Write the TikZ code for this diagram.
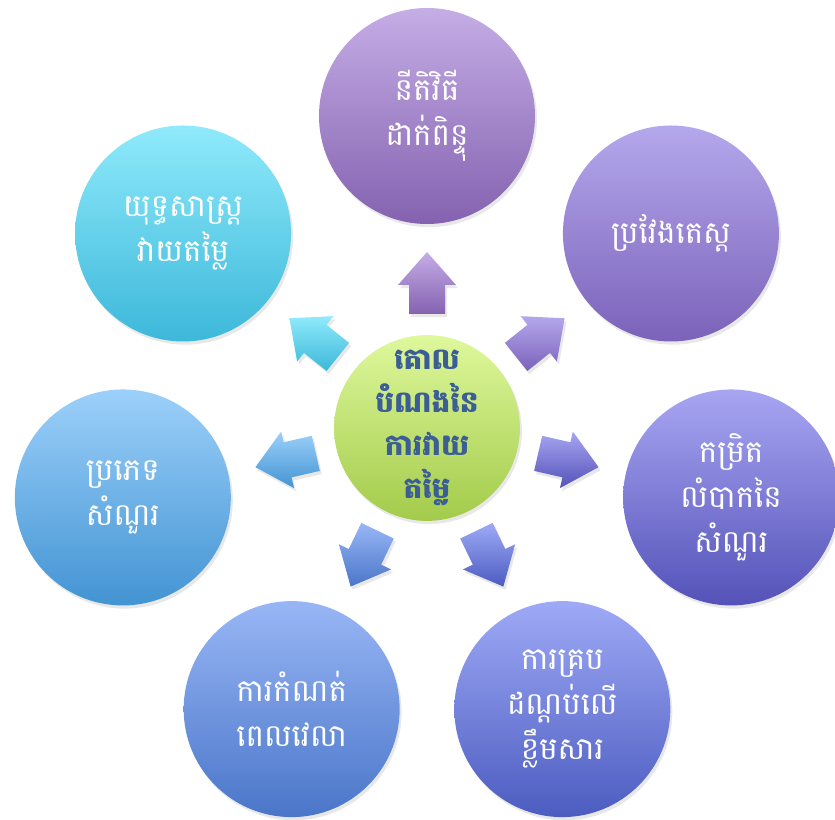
\documentclass[tikz,border=0pt]{standalone}
\usepackage{fontspec}
\newfontfamily\khmerfont[Script=Khmer]{Battambang}
\usetikzlibrary{positioning,calc,shadows}
\definecolor{hubtop}{HTML}{DEF89C}
\definecolor{hubbot}{HTML}{A3CB4A}
\definecolor{hubtext}{HTML}{3C5E96}
\definecolor{lilactop}{HTML}{C5ADE6}
\definecolor{lilacbot}{HTML}{8462B0}
\definecolor{violettop}{HTML}{B4A8EC}
\definecolor{violetbot}{HTML}{7B62BA}
\definecolor{indigotop}{HTML}{A8A6F2}
\definecolor{indigobot}{HTML}{5452B8}
\definecolor{royaltop}{HTML}{9EAAF6}
\definecolor{royalbot}{HTML}{4C5CC0}
\definecolor{cornflowertop}{HTML}{98B6F5}
\definecolor{cornflowerbot}{HTML}{4A76C9}
\definecolor{skytop}{HTML}{9CD0FA}
\definecolor{skybot}{HTML}{4394D3}
\definecolor{aquatop}{HTML}{8FEAFB}
\definecolor{aquabot}{HTML}{3DB8DA}
\tikzset{
  softshadow/.style={drop shadow={opacity=0.18, shadow xshift=0.5mm, shadow yshift=-0.8mm}},
  bubble/.style={circle, softshadow, minimum size=5.4cm, inner sep=0pt, align=center, text=white, font=\khmerfont\fontsize{22}{32}\selectfont},
  hub/.style={circle, softshadow, minimum size=4.35cm, inner sep=0pt, align=center, text=hubtext, top color=hubtop, bottom color=hubbot, font=\khmerfont\bfseries\fontsize{21}{30.5}\selectfont},
  blockarrow/.style={softshadow},
  lilac/.style={top color=lilactop, bottom color=lilacbot},
  violet/.style={top color=violettop, bottom color=violetbot},
  indigo/.style={top color=indigotop, bottom color=indigobot},
  royal/.style={top color=royaltop, bottom color=royalbot},
  cornflower/.style={top color=cornflowertop, bottom color=cornflowerbot},
  sky/.style={top color=skytop, bottom color=skybot},
  aqua/.style={top color=aquatop, bottom color=aquabot}
}
\begin{document}
\begin{tikzpicture}
  \useasboundingbox (-10.675,-9.8) rectangle (10.2,10.7);
  % centre
  \node[hub] (goal) at (0,0) {គោល\\បំណងនៃ\\ការវាយ\\តម្លៃ};
  % outer circles
  \node[bubble, lilac] (scoring) at (90:7.8) {នីតិវិធី\\ដាក់ពិន្ទុ};
  \node[bubble, violet] (length) at (38.57:7.8) {ប្រវែងតេស្ត};
  \node[bubble, indigo] (difficulty) at (-12.86:7.8) {កម្រិត\\លំបាកនៃ\\សំណួរ};
  \node[bubble, royal] (coverage) at (-64.29:7.8) {ការគ្រប\\ដណ្ដប់លើ\\ខ្លឹមសារ};
  \node[bubble, cornflower] (timing) at (-115.71:7.8) {ការកំណត់\\ពេលវេលា};
  \node[bubble, sky] (qtype) at (-167.14:7.8) {ប្រភេទ\\សំណួរ};
  \node[bubble, aqua] (strategy) at (141.43:7.8) {យុទ្ធសាស្ត្រ\\វាយតម្លៃ};
  % block arrows from the centre outwards
  \foreach \a/\tone in {90/lilac, 38.57/violet, -12.86/indigo, -64.29/royal, -115.71/cornflower, -167.14/sky, 141.43/aqua}
    \path[blockarrow, \tone]
      ($(goal.center)+(\a:2.85)+(\a+90:0.45)$) -- ($(goal.center)+(\a:3.575)+(\a+90:0.45)$)
      -- ($(goal.center)+(\a:3.575)+(\a+90:0.725)$) -- ($(goal.center)+(\a:4.4)$)
      -- ($(goal.center)+(\a:3.575)+(\a-90:0.725)$) -- ($(goal.center)+(\a:3.575)+(\a-90:0.45)$)
      -- ($(goal.center)+(\a:2.85)+(\a-90:0.45)$) -- cycle;
\end{tikzpicture}
\end{document}
